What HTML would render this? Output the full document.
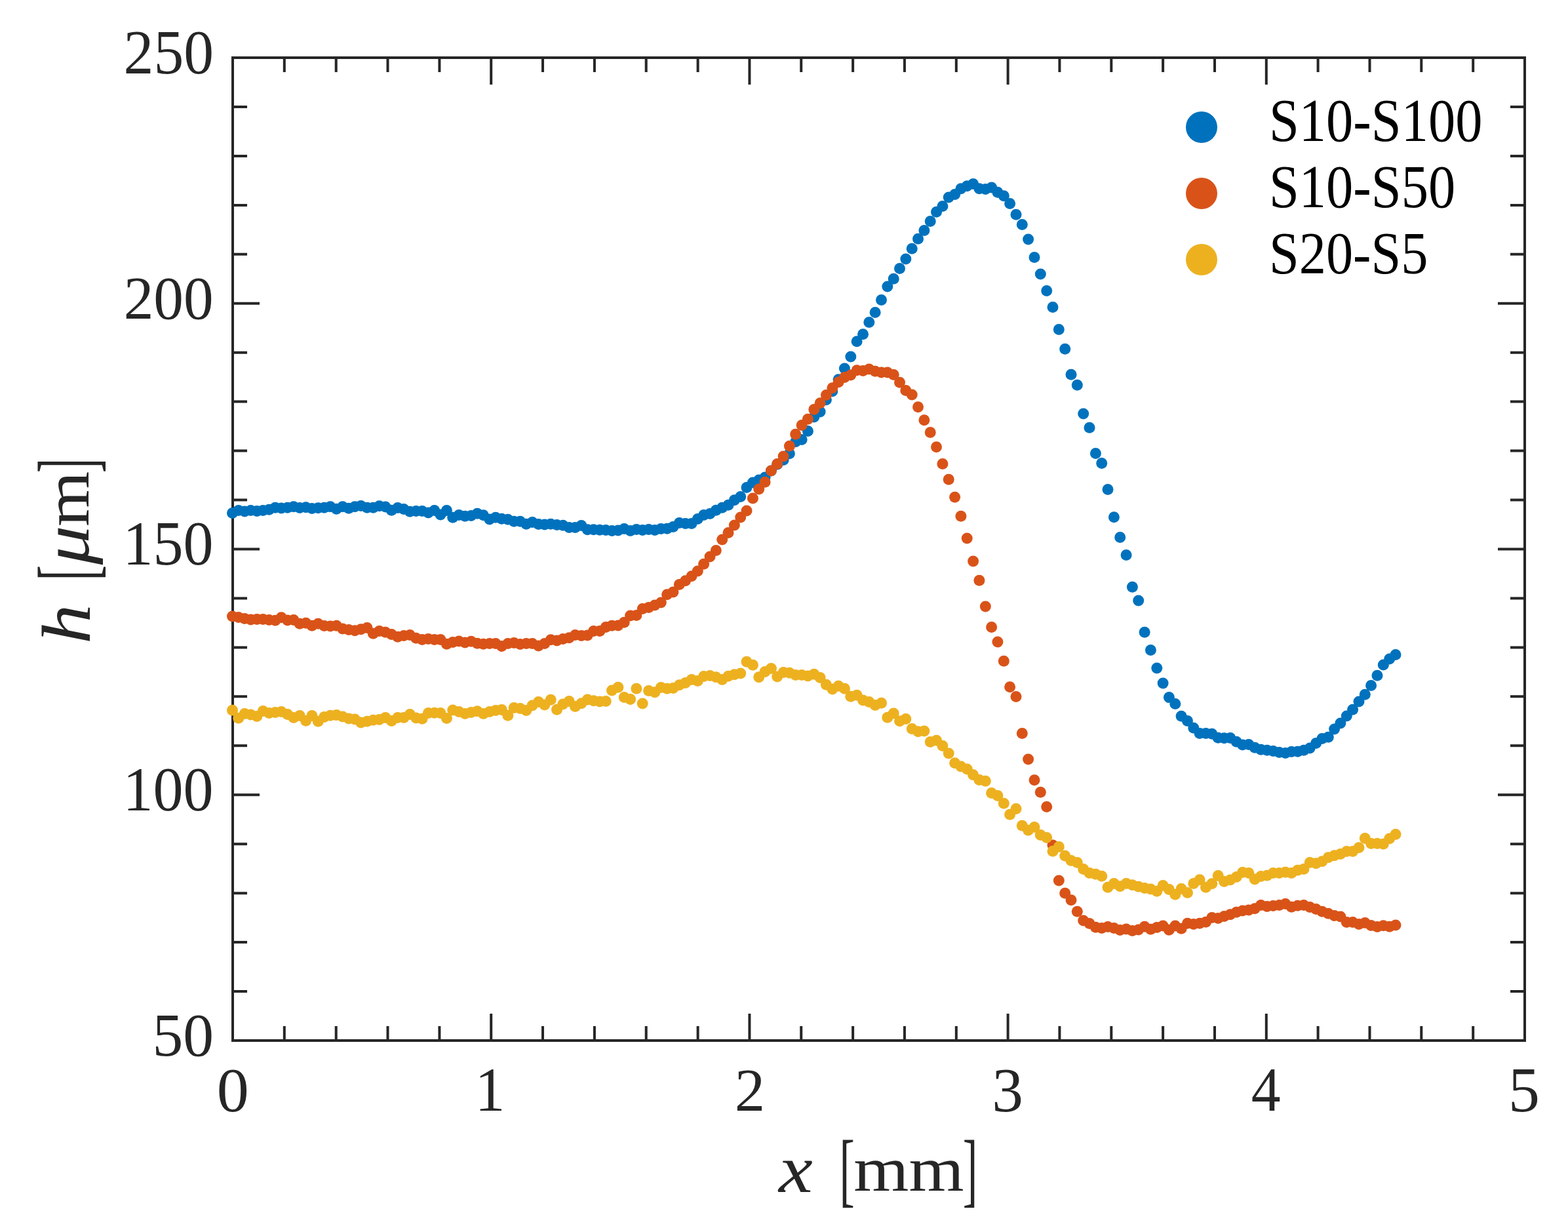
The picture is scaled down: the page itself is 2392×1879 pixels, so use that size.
<!DOCTYPE html><html><head><meta charset="utf-8"><title>h vs x</title><style>html,body{margin:0;padding:0;background:#fff;overflow:hidden}svg{display:block}</style></head><body>
<svg width="2392" height="1879" viewBox="0 0 2392 1879">
<rect width="2392" height="1879" fill="#fff"/>
<path d="M433.8 1587.0v-22M433.8 88.0v22M512.7 1587.0v-22M512.7 88.0v22M591.5 1587.0v-22M591.5 88.0v22M670.4 1587.0v-22M670.4 88.0v22M749.2 1587.0v-41M749.2 88.0v41M828.0 1587.0v-22M828.0 88.0v22M906.9 1587.0v-22M906.9 88.0v22M985.7 1587.0v-22M985.7 88.0v22M1064.6 1587.0v-22M1064.6 88.0v22M1143.4 1587.0v-41M1143.4 88.0v41M1222.2 1587.0v-22M1222.2 88.0v22M1301.1 1587.0v-22M1301.1 88.0v22M1379.9 1587.0v-22M1379.9 88.0v22M1458.8 1587.0v-22M1458.8 88.0v22M1537.6 1587.0v-41M1537.6 88.0v41M1616.4 1587.0v-22M1616.4 88.0v22M1695.3 1587.0v-22M1695.3 88.0v22M1774.1 1587.0v-22M1774.1 88.0v22M1853.0 1587.0v-22M1853.0 88.0v22M1931.8 1587.0v-41M1931.8 88.0v41M2010.6 1587.0v-22M2010.6 88.0v22M2089.5 1587.0v-22M2089.5 88.0v22M2168.3 1587.0v-22M2168.3 88.0v22M2247.2 1587.0v-22M2247.2 88.0v22M355.0 1512.0h22M2326.0 1512.0h-22M355.0 1437.1h22M2326.0 1437.1h-22M355.0 1362.2h22M2326.0 1362.2h-22M355.0 1287.2h22M2326.0 1287.2h-22M355.0 1212.2h41M2326.0 1212.2h-41M355.0 1137.3h22M2326.0 1137.3h-22M355.0 1062.3h22M2326.0 1062.3h-22M355.0 987.4h22M2326.0 987.4h-22M355.0 912.5h22M2326.0 912.5h-22M355.0 837.5h41M2326.0 837.5h-41M355.0 762.5h22M2326.0 762.5h-22M355.0 687.6h22M2326.0 687.6h-22M355.0 612.6h22M2326.0 612.6h-22M355.0 537.7h22M2326.0 537.7h-22M355.0 462.8h41M2326.0 462.8h-41M355.0 387.8h22M2326.0 387.8h-22M355.0 312.9h22M2326.0 312.9h-22M355.0 237.9h22M2326.0 237.9h-22M355.0 162.9h22M2326.0 162.9h-22" stroke="#262626" stroke-width="4" fill="none"/>
<rect x="355.0" y="88.0" width="1971.0" height="1499.0" stroke="#262626" stroke-width="4" fill="none"/>
<g font-family="Liberation Serif, serif" font-size="100" fill="#262626"><text transform="matrix(0.9166 0 0 0.9467 188.58 111.75)">250</text><text transform="matrix(0.9131 0 0 0.9348 188.69 486.07)">200</text><text transform="matrix(0.9212 0 0 0.9481 187.51 860.95)">150</text><text transform="matrix(0.9212 0 0 0.9467 187.51 1235.85)">100</text><text transform="matrix(0.9367 0 0 0.9289 232.38 1610.07)">50</text><text transform="matrix(0.9810 0 0 0.9526 330.68 1694.75)">0</text><text transform="matrix(0.9200 0 0 0.9542 724.52 1694.00)">1</text><text transform="matrix(0.9275 0 0 0.9364 1120.83 1693.70)">2</text><text transform="matrix(0.9537 0 0 0.9597 1513.13 1695.24)">3</text><text transform="matrix(0.8968 0 0 0.9600 1908.81 1694.48)">4</text><text transform="matrix(0.9575 0 0 0.9654 2300.95 1694.83)">5</text>
<text transform="matrix(1.1663 0 0 1.0330 1187.97 1817.80)" font-style="italic">x</text>
<text transform="matrix(0.7000 0 0 1.2533 1280.55 1825.08)">[</text>
<text transform="matrix(1.0816 0 0 0.9681 1302.34 1816.30)">mm</text>
<text transform="matrix(0.6756 0 0 1.2533 1468.64 1825.08)">]</text>
<g transform="translate(135 841) rotate(-90)">
<text transform="matrix(1.2141 0 0 1.0511 -141.25 1.53)" font-style="italic">h</text>
<text transform="matrix(0.7045 0 0 1.2497 -44.38 9.03)">[</text>
<text transform="matrix(1.1957 0 0 1.0090 -20.40 0.41)" font-style="italic">μ</text>
<text transform="matrix(1.0811 0 0 0.9702 37.94 -0.40)">m</text>
<text transform="matrix(0.6667 0 0 1.2497 119.67 9.03)">]</text>
</g></g>
<g fill="#0072BD"><circle cx="354.5" cy="782.4" r="8.5"/><circle cx="363.8" cy="778.5" r="8.5"/><circle cx="373.2" cy="780.1" r="8.5"/><circle cx="382.5" cy="778.5" r="8.5"/><circle cx="391.9" cy="779.6" r="8.5"/><circle cx="401.2" cy="778.6" r="8.5"/><circle cx="410.5" cy="777.3" r="8.5"/><circle cx="419.9" cy="774.3" r="8.5"/><circle cx="429.2" cy="775.0" r="8.5"/><circle cx="438.6" cy="774.3" r="8.5"/><circle cx="447.9" cy="772.7" r="8.5"/><circle cx="457.2" cy="774.5" r="8.5"/><circle cx="466.6" cy="773.8" r="8.5"/><circle cx="475.9" cy="775.5" r="8.5"/><circle cx="485.3" cy="774.7" r="8.5"/><circle cx="494.6" cy="774.3" r="8.5"/><circle cx="503.9" cy="772.7" r="8.5"/><circle cx="513.3" cy="776.2" r="8.5"/><circle cx="522.6" cy="772.7" r="8.5"/><circle cx="532.0" cy="775.2" r="8.5"/><circle cx="541.3" cy="772.7" r="8.5"/><circle cx="550.6" cy="771.6" r="8.5"/><circle cx="560.0" cy="774.3" r="8.5"/><circle cx="569.3" cy="774.3" r="8.5"/><circle cx="578.6" cy="771.8" r="8.5"/><circle cx="588.0" cy="772.9" r="8.5"/><circle cx="597.3" cy="778.2" r="8.5"/><circle cx="606.7" cy="774.5" r="8.5"/><circle cx="616.0" cy="776.6" r="8.5"/><circle cx="625.3" cy="780.3" r="8.5"/><circle cx="634.7" cy="779.4" r="8.5"/><circle cx="644.0" cy="779.4" r="8.5"/><circle cx="653.4" cy="781.9" r="8.5"/><circle cx="662.7" cy="778.5" r="8.5"/><circle cx="672.0" cy="785.1" r="8.5"/><circle cx="681.4" cy="778.6" r="8.5"/><circle cx="690.7" cy="789.2" r="8.5"/><circle cx="700.1" cy="785.4" r="8.5"/><circle cx="709.4" cy="787.2" r="8.5"/><circle cx="718.7" cy="786.5" r="8.5"/><circle cx="728.1" cy="783.2" r="8.5"/><circle cx="737.4" cy="785.8" r="8.5"/><circle cx="746.8" cy="792.1" r="8.5"/><circle cx="756.1" cy="789.3" r="8.5"/><circle cx="765.4" cy="791.2" r="8.5"/><circle cx="774.8" cy="792.3" r="8.5"/><circle cx="784.1" cy="795.3" r="8.5"/><circle cx="793.5" cy="795.3" r="8.5"/><circle cx="802.8" cy="799.2" r="8.5"/><circle cx="812.1" cy="796.4" r="8.5"/><circle cx="821.5" cy="799.4" r="8.5"/><circle cx="830.8" cy="800.1" r="8.5"/><circle cx="840.2" cy="799.2" r="8.5"/><circle cx="849.5" cy="800.4" r="8.5"/><circle cx="858.8" cy="801.3" r="8.5"/><circle cx="868.2" cy="804.5" r="8.5"/><circle cx="877.5" cy="804.5" r="8.5"/><circle cx="886.9" cy="801.5" r="8.5"/><circle cx="896.2" cy="807.7" r="8.5"/><circle cx="905.5" cy="807.7" r="8.5"/><circle cx="914.9" cy="808.2" r="8.5"/><circle cx="924.2" cy="808.6" r="8.5"/><circle cx="933.5" cy="809.6" r="8.5"/><circle cx="942.9" cy="808.9" r="8.5"/><circle cx="952.2" cy="806.6" r="8.5"/><circle cx="961.6" cy="809.4" r="8.5"/><circle cx="970.9" cy="807.6" r="8.5"/><circle cx="980.2" cy="808.5" r="8.5"/><circle cx="989.6" cy="807.6" r="8.5"/><circle cx="998.9" cy="808.5" r="8.5"/><circle cx="1008.3" cy="806.5" r="8.5"/><circle cx="1017.6" cy="806.3" r="8.5"/><circle cx="1026.9" cy="803.4" r="8.5"/><circle cx="1036.3" cy="797.6" r="8.5"/><circle cx="1045.6" cy="798.4" r="8.5"/><circle cx="1055.0" cy="798.4" r="8.5"/><circle cx="1064.3" cy="791.6" r="8.5"/><circle cx="1073.6" cy="785.5" r="8.5"/><circle cx="1083.0" cy="783.6" r="8.5"/><circle cx="1092.3" cy="778.3" r="8.5"/><circle cx="1101.7" cy="774.2" r="8.5"/><circle cx="1111.0" cy="770.3" r="8.5"/><circle cx="1120.3" cy="762.7" r="8.5"/><circle cx="1129.7" cy="757.6" r="8.5"/><circle cx="1139.0" cy="743.4" r="8.5"/><circle cx="1148.4" cy="736.0" r="8.5"/><circle cx="1157.7" cy="732.0" r="8.5"/><circle cx="1167.0" cy="727.9" r="8.5"/><circle cx="1176.4" cy="718.0" r="8.5"/><circle cx="1185.7" cy="708.2" r="8.5"/><circle cx="1195.1" cy="701.6" r="8.5"/><circle cx="1204.4" cy="691.8" r="8.5"/><circle cx="1213.7" cy="673.8" r="8.5"/><circle cx="1223.1" cy="670.5" r="8.5"/><circle cx="1232.4" cy="657.4" r="8.5"/><circle cx="1241.8" cy="636.0" r="8.5"/><circle cx="1251.1" cy="627.9" r="8.5"/><circle cx="1260.4" cy="609.8" r="8.5"/><circle cx="1269.8" cy="596.7" r="8.5"/><circle cx="1279.1" cy="578.7" r="8.5"/><circle cx="1288.4" cy="562.0" r="8.5"/><circle cx="1297.8" cy="543.9" r="8.5"/><circle cx="1307.1" cy="520.8" r="8.5"/><circle cx="1316.5" cy="509.7" r="8.5"/><circle cx="1325.8" cy="491.5" r="8.5"/><circle cx="1335.1" cy="476.5" r="8.5"/><circle cx="1344.5" cy="457.6" r="8.5"/><circle cx="1353.8" cy="437.0" r="8.5"/><circle cx="1363.2" cy="425.2" r="8.5"/><circle cx="1372.5" cy="409.4" r="8.5"/><circle cx="1381.8" cy="395.1" r="8.5"/><circle cx="1391.2" cy="379.3" r="8.5"/><circle cx="1400.5" cy="364.3" r="8.5"/><circle cx="1409.9" cy="351.4" r="8.5"/><circle cx="1419.2" cy="337.4" r="8.5"/><circle cx="1428.5" cy="323.2" r="8.5"/><circle cx="1437.9" cy="314.5" r="8.5"/><circle cx="1447.2" cy="301.1" r="8.5"/><circle cx="1456.6" cy="296.4" r="8.5"/><circle cx="1465.9" cy="287.7" r="8.5"/><circle cx="1475.2" cy="283.7" r="8.5"/><circle cx="1484.6" cy="280.5" r="8.5"/><circle cx="1493.9" cy="287.7" r="8.5"/><circle cx="1503.3" cy="288.4" r="8.5"/><circle cx="1512.6" cy="286.1" r="8.5"/><circle cx="1521.9" cy="293.2" r="8.5"/><circle cx="1531.3" cy="298.7" r="8.5"/><circle cx="1540.6" cy="310.6" r="8.5"/><circle cx="1550.0" cy="327.3" r="8.5"/><circle cx="1559.3" cy="342.4" r="8.5"/><circle cx="1568.6" cy="364.9" r="8.5"/><circle cx="1578.0" cy="392.6" r="8.5"/><circle cx="1587.3" cy="418.1" r="8.5"/><circle cx="1596.7" cy="443.6" r="8.5"/><circle cx="1606.0" cy="468.5" r="8.5"/><circle cx="1615.3" cy="502.4" r="8.5"/><circle cx="1624.7" cy="532.3" r="8.5"/><circle cx="1634.0" cy="571.3" r="8.5"/><circle cx="1643.3" cy="587.2" r="8.5"/><circle cx="1652.7" cy="631.1" r="8.5"/><circle cx="1662.0" cy="652.2" r="8.5"/><circle cx="1671.4" cy="691.4" r="8.5"/><circle cx="1680.7" cy="706.6" r="8.5"/><circle cx="1690.0" cy="746.5" r="8.5"/><circle cx="1699.4" cy="788.8" r="8.5"/><circle cx="1708.7" cy="819.6" r="8.5"/><circle cx="1718.1" cy="846.4" r="8.5"/><circle cx="1727.4" cy="895.2" r="8.5"/><circle cx="1736.7" cy="916.1" r="8.5"/><circle cx="1746.1" cy="964.2" r="8.5"/><circle cx="1755.4" cy="991.5" r="8.5"/><circle cx="1764.8" cy="1019.1" r="8.5"/><circle cx="1774.1" cy="1042.1" r="8.5"/><circle cx="1783.4" cy="1063.6" r="8.5"/><circle cx="1792.8" cy="1073.4" r="8.5"/><circle cx="1802.1" cy="1092.3" r="8.5"/><circle cx="1811.5" cy="1099.5" r="8.5"/><circle cx="1820.8" cy="1110.3" r="8.5"/><circle cx="1830.1" cy="1118.4" r="8.5"/><circle cx="1839.5" cy="1118.4" r="8.5"/><circle cx="1848.8" cy="1119.3" r="8.5"/><circle cx="1858.2" cy="1125.3" r="8.5"/><circle cx="1867.5" cy="1125.8" r="8.5"/><circle cx="1876.8" cy="1125.5" r="8.5"/><circle cx="1886.2" cy="1131.3" r="8.5"/><circle cx="1895.5" cy="1136.1" r="8.5"/><circle cx="1904.9" cy="1135.4" r="8.5"/><circle cx="1914.2" cy="1140.2" r="8.5"/><circle cx="1923.5" cy="1143.2" r="8.5"/><circle cx="1932.9" cy="1144.3" r="8.5"/><circle cx="1942.2" cy="1145.5" r="8.5"/><circle cx="1951.5" cy="1147.4" r="8.5"/><circle cx="1960.9" cy="1148.5" r="8.5"/><circle cx="1970.2" cy="1146.6" r="8.5"/><circle cx="1979.6" cy="1146.2" r="8.5"/><circle cx="1988.9" cy="1144.3" r="8.5"/><circle cx="1998.2" cy="1141.1" r="8.5"/><circle cx="2007.6" cy="1133.6" r="8.5"/><circle cx="2016.9" cy="1126.4" r="8.5"/><circle cx="2026.3" cy="1124.2" r="8.5"/><circle cx="2035.6" cy="1112.0" r="8.5"/><circle cx="2044.9" cy="1103.0" r="8.5"/><circle cx="2054.3" cy="1092.0" r="8.5"/><circle cx="2063.6" cy="1082.3" r="8.5"/><circle cx="2073.0" cy="1070.1" r="8.5"/><circle cx="2082.3" cy="1059.2" r="8.5"/><circle cx="2091.6" cy="1045.6" r="8.5"/><circle cx="2101.0" cy="1030.2" r="8.5"/><circle cx="2110.3" cy="1014.1" r="8.5"/><circle cx="2119.7" cy="1005.1" r="8.5"/><circle cx="2129.0" cy="998.6" r="8.5"/></g>
<g fill="#D95319"><circle cx="354.5" cy="939.9" r="8.5"/><circle cx="363.8" cy="941.6" r="8.5"/><circle cx="373.2" cy="943.4" r="8.5"/><circle cx="382.5" cy="945.0" r="8.5"/><circle cx="391.9" cy="944.5" r="8.5"/><circle cx="401.2" cy="944.5" r="8.5"/><circle cx="410.5" cy="945.4" r="8.5"/><circle cx="419.9" cy="946.3" r="8.5"/><circle cx="429.2" cy="941.7" r="8.5"/><circle cx="438.6" cy="945.9" r="8.5"/><circle cx="447.9" cy="945.4" r="8.5"/><circle cx="457.2" cy="951.2" r="8.5"/><circle cx="466.6" cy="950.3" r="8.5"/><circle cx="475.9" cy="954.2" r="8.5"/><circle cx="485.3" cy="951.2" r="8.5"/><circle cx="494.6" cy="954.4" r="8.5"/><circle cx="503.9" cy="954.9" r="8.5"/><circle cx="513.3" cy="954.2" r="8.5"/><circle cx="522.6" cy="959.0" r="8.5"/><circle cx="532.0" cy="960.6" r="8.5"/><circle cx="541.3" cy="961.8" r="8.5"/><circle cx="550.6" cy="959.7" r="8.5"/><circle cx="560.0" cy="957.6" r="8.5"/><circle cx="569.3" cy="966.2" r="8.5"/><circle cx="578.6" cy="962.5" r="8.5"/><circle cx="588.0" cy="964.3" r="8.5"/><circle cx="597.3" cy="967.5" r="8.5"/><circle cx="606.7" cy="971.2" r="8.5"/><circle cx="616.0" cy="969.4" r="8.5"/><circle cx="625.3" cy="968.5" r="8.5"/><circle cx="634.7" cy="973.3" r="8.5"/><circle cx="644.0" cy="975.4" r="8.5"/><circle cx="653.4" cy="974.4" r="8.5"/><circle cx="662.7" cy="975.4" r="8.5"/><circle cx="672.0" cy="975.4" r="8.5"/><circle cx="681.4" cy="982.3" r="8.5"/><circle cx="690.7" cy="979.5" r="8.5"/><circle cx="700.1" cy="978.1" r="8.5"/><circle cx="709.4" cy="980.1" r="8.5"/><circle cx="718.7" cy="978.3" r="8.5"/><circle cx="728.1" cy="981.3" r="8.5"/><circle cx="737.4" cy="982.3" r="8.5"/><circle cx="746.8" cy="981.5" r="8.5"/><circle cx="756.1" cy="981.5" r="8.5"/><circle cx="765.4" cy="985.6" r="8.5"/><circle cx="774.8" cy="981.5" r="8.5"/><circle cx="784.1" cy="980.5" r="8.5"/><circle cx="793.5" cy="982.6" r="8.5"/><circle cx="802.8" cy="981.5" r="8.5"/><circle cx="812.1" cy="981.5" r="8.5"/><circle cx="821.5" cy="984.9" r="8.5"/><circle cx="830.8" cy="981.6" r="8.5"/><circle cx="840.2" cy="975.7" r="8.5"/><circle cx="849.5" cy="976.9" r="8.5"/><circle cx="858.8" cy="974.6" r="8.5"/><circle cx="868.2" cy="972.7" r="8.5"/><circle cx="877.5" cy="968.6" r="8.5"/><circle cx="886.9" cy="969.5" r="8.5"/><circle cx="896.2" cy="969.0" r="8.5"/><circle cx="905.5" cy="962.6" r="8.5"/><circle cx="914.9" cy="962.6" r="8.5"/><circle cx="924.2" cy="956.6" r="8.5"/><circle cx="933.5" cy="954.3" r="8.5"/><circle cx="942.9" cy="953.9" r="8.5"/><circle cx="952.2" cy="949.3" r="8.5"/><circle cx="961.6" cy="938.9" r="8.5"/><circle cx="970.9" cy="938.6" r="8.5"/><circle cx="980.2" cy="928.5" r="8.5"/><circle cx="989.6" cy="926.5" r="8.5"/><circle cx="998.9" cy="922.9" r="8.5"/><circle cx="1008.3" cy="919.1" r="8.5"/><circle cx="1017.6" cy="906.8" r="8.5"/><circle cx="1026.9" cy="902.9" r="8.5"/><circle cx="1036.3" cy="891.6" r="8.5"/><circle cx="1045.6" cy="885.8" r="8.5"/><circle cx="1055.0" cy="878.8" r="8.5"/><circle cx="1064.3" cy="870.9" r="8.5"/><circle cx="1073.6" cy="860.2" r="8.5"/><circle cx="1083.0" cy="849.1" r="8.5"/><circle cx="1092.3" cy="839.4" r="8.5"/><circle cx="1101.7" cy="823.0" r="8.5"/><circle cx="1111.0" cy="812.5" r="8.5"/><circle cx="1120.3" cy="801.0" r="8.5"/><circle cx="1129.7" cy="789.0" r="8.5"/><circle cx="1139.0" cy="779.0" r="8.5"/><circle cx="1148.4" cy="760.0" r="8.5"/><circle cx="1157.7" cy="745.9" r="8.5"/><circle cx="1167.0" cy="735.2" r="8.5"/><circle cx="1176.4" cy="718.0" r="8.5"/><circle cx="1185.7" cy="707.4" r="8.5"/><circle cx="1195.1" cy="695.9" r="8.5"/><circle cx="1204.4" cy="680.3" r="8.5"/><circle cx="1213.7" cy="662.3" r="8.5"/><circle cx="1223.1" cy="648.4" r="8.5"/><circle cx="1232.4" cy="639.3" r="8.5"/><circle cx="1241.8" cy="624.6" r="8.5"/><circle cx="1251.1" cy="614.8" r="8.5"/><circle cx="1260.4" cy="602.5" r="8.5"/><circle cx="1269.8" cy="591.8" r="8.5"/><circle cx="1279.1" cy="582.8" r="8.5"/><circle cx="1288.4" cy="575.4" r="8.5"/><circle cx="1297.8" cy="572.1" r="8.5"/><circle cx="1307.1" cy="564.8" r="8.5"/><circle cx="1316.5" cy="565.6" r="8.5"/><circle cx="1325.8" cy="563.1" r="8.5"/><circle cx="1335.1" cy="566.2" r="8.5"/><circle cx="1344.5" cy="568.0" r="8.5"/><circle cx="1353.8" cy="568.1" r="8.5"/><circle cx="1363.2" cy="571.6" r="8.5"/><circle cx="1372.5" cy="583.3" r="8.5"/><circle cx="1381.8" cy="595.6" r="8.5"/><circle cx="1391.2" cy="602.1" r="8.5"/><circle cx="1400.5" cy="620.8" r="8.5"/><circle cx="1409.9" cy="640.7" r="8.5"/><circle cx="1419.2" cy="659.4" r="8.5"/><circle cx="1428.5" cy="681.7" r="8.5"/><circle cx="1437.9" cy="707.4" r="8.5"/><circle cx="1447.2" cy="731.3" r="8.5"/><circle cx="1456.6" cy="758.2" r="8.5"/><circle cx="1465.9" cy="787.2" r="8.5"/><circle cx="1475.2" cy="821.1" r="8.5"/><circle cx="1484.6" cy="856.1" r="8.5"/><circle cx="1493.9" cy="885.2" r="8.5"/><circle cx="1503.3" cy="924.9" r="8.5"/><circle cx="1512.6" cy="956.6" r="8.5"/><circle cx="1521.9" cy="979.1" r="8.5"/><circle cx="1531.3" cy="1008.3" r="8.5"/><circle cx="1540.6" cy="1047.8" r="8.5"/><circle cx="1550.0" cy="1062.4" r="8.5"/><circle cx="1559.3" cy="1118.4" r="8.5"/><circle cx="1568.6" cy="1158.0" r="8.5"/><circle cx="1578.0" cy="1189.8" r="8.5"/><circle cx="1587.3" cy="1208.2" r="8.5"/><circle cx="1596.7" cy="1230.5" r="8.5"/><circle cx="1606.0" cy="1289.1" r="8.5"/><circle cx="1615.3" cy="1343.1" r="8.5"/><circle cx="1624.7" cy="1362.2" r="8.5"/><circle cx="1634.0" cy="1372.8" r="8.5"/><circle cx="1643.3" cy="1390.3" r="8.5"/><circle cx="1652.7" cy="1404.0" r="8.5"/><circle cx="1662.0" cy="1408.6" r="8.5"/><circle cx="1671.4" cy="1414.2" r="8.5"/><circle cx="1680.7" cy="1415.4" r="8.5"/><circle cx="1690.0" cy="1413.5" r="8.5"/><circle cx="1699.4" cy="1415.4" r="8.5"/><circle cx="1708.7" cy="1418.5" r="8.5"/><circle cx="1718.1" cy="1417.0" r="8.5"/><circle cx="1727.4" cy="1419.5" r="8.5"/><circle cx="1736.7" cy="1418.1" r="8.5"/><circle cx="1746.1" cy="1413.3" r="8.5"/><circle cx="1755.4" cy="1417.2" r="8.5"/><circle cx="1764.8" cy="1414.4" r="8.5"/><circle cx="1774.1" cy="1412.1" r="8.5"/><circle cx="1783.4" cy="1418.3" r="8.5"/><circle cx="1792.8" cy="1412.1" r="8.5"/><circle cx="1802.1" cy="1416.3" r="8.5"/><circle cx="1811.5" cy="1408.2" r="8.5"/><circle cx="1820.8" cy="1409.4" r="8.5"/><circle cx="1830.1" cy="1408.2" r="8.5"/><circle cx="1839.5" cy="1406.2" r="8.5"/><circle cx="1848.8" cy="1399.4" r="8.5"/><circle cx="1858.2" cy="1400.6" r="8.5"/><circle cx="1867.5" cy="1397.4" r="8.5"/><circle cx="1876.8" cy="1394.8" r="8.5"/><circle cx="1886.2" cy="1391.3" r="8.5"/><circle cx="1895.5" cy="1389.0" r="8.5"/><circle cx="1904.9" cy="1388.0" r="8.5"/><circle cx="1914.2" cy="1385.7" r="8.5"/><circle cx="1923.5" cy="1380.6" r="8.5"/><circle cx="1932.9" cy="1382.4" r="8.5"/><circle cx="1942.2" cy="1381.5" r="8.5"/><circle cx="1951.5" cy="1380.4" r="8.5"/><circle cx="1960.9" cy="1378.5" r="8.5"/><circle cx="1970.2" cy="1383.3" r="8.5"/><circle cx="1979.6" cy="1381.3" r="8.5"/><circle cx="1988.9" cy="1380.4" r="8.5"/><circle cx="1998.2" cy="1383.6" r="8.5"/><circle cx="2007.6" cy="1386.4" r="8.5"/><circle cx="2016.9" cy="1390.2" r="8.5"/><circle cx="2026.3" cy="1393.3" r="8.5"/><circle cx="2035.6" cy="1396.5" r="8.5"/><circle cx="2044.9" cy="1397.9" r="8.5"/><circle cx="2054.3" cy="1406.6" r="8.5"/><circle cx="2063.6" cy="1406.6" r="8.5"/><circle cx="2073.0" cy="1409.4" r="8.5"/><circle cx="2082.3" cy="1407.5" r="8.5"/><circle cx="2091.6" cy="1411.4" r="8.5"/><circle cx="2101.0" cy="1413.5" r="8.5"/><circle cx="2110.3" cy="1411.7" r="8.5"/><circle cx="2119.7" cy="1413.2" r="8.5"/><circle cx="2129.0" cy="1411.1" r="8.5"/></g>
<g fill="#EDB120"><circle cx="354.5" cy="1083.3" r="8.5"/><circle cx="363.8" cy="1095.2" r="8.5"/><circle cx="373.2" cy="1088.6" r="8.5"/><circle cx="382.5" cy="1090.0" r="8.5"/><circle cx="391.9" cy="1092.4" r="8.5"/><circle cx="401.2" cy="1084.5" r="8.5"/><circle cx="410.5" cy="1087.5" r="8.5"/><circle cx="419.9" cy="1086.4" r="8.5"/><circle cx="429.2" cy="1085.5" r="8.5"/><circle cx="438.6" cy="1089.4" r="8.5"/><circle cx="447.9" cy="1094.4" r="8.5"/><circle cx="457.2" cy="1091.4" r="8.5"/><circle cx="466.6" cy="1099.3" r="8.5"/><circle cx="475.9" cy="1091.4" r="8.5"/><circle cx="485.3" cy="1100.2" r="8.5"/><circle cx="494.6" cy="1093.5" r="8.5"/><circle cx="503.9" cy="1091.2" r="8.5"/><circle cx="513.3" cy="1090.5" r="8.5"/><circle cx="522.6" cy="1093.0" r="8.5"/><circle cx="532.0" cy="1096.0" r="8.5"/><circle cx="541.3" cy="1097.0" r="8.5"/><circle cx="550.6" cy="1102.0" r="8.5"/><circle cx="560.0" cy="1100.2" r="8.5"/><circle cx="569.3" cy="1098.3" r="8.5"/><circle cx="578.6" cy="1097.4" r="8.5"/><circle cx="588.0" cy="1094.4" r="8.5"/><circle cx="597.3" cy="1099.5" r="8.5"/><circle cx="606.7" cy="1094.5" r="8.5"/><circle cx="616.0" cy="1094.4" r="8.5"/><circle cx="625.3" cy="1089.4" r="8.5"/><circle cx="634.7" cy="1095.1" r="8.5"/><circle cx="644.0" cy="1096.3" r="8.5"/><circle cx="653.4" cy="1087.5" r="8.5"/><circle cx="662.7" cy="1087.3" r="8.5"/><circle cx="672.0" cy="1087.5" r="8.5"/><circle cx="681.4" cy="1095.4" r="8.5"/><circle cx="690.7" cy="1082.9" r="8.5"/><circle cx="700.1" cy="1085.5" r="8.5"/><circle cx="709.4" cy="1088.5" r="8.5"/><circle cx="718.7" cy="1086.4" r="8.5"/><circle cx="728.1" cy="1084.8" r="8.5"/><circle cx="737.4" cy="1088.5" r="8.5"/><circle cx="746.8" cy="1085.5" r="8.5"/><circle cx="756.1" cy="1083.4" r="8.5"/><circle cx="765.4" cy="1082.5" r="8.5"/><circle cx="774.8" cy="1091.3" r="8.5"/><circle cx="784.1" cy="1079.6" r="8.5"/><circle cx="793.5" cy="1080.5" r="8.5"/><circle cx="802.8" cy="1083.4" r="8.5"/><circle cx="812.1" cy="1075.9" r="8.5"/><circle cx="821.5" cy="1070.5" r="8.5"/><circle cx="830.8" cy="1075.1" r="8.5"/><circle cx="840.2" cy="1067.3" r="8.5"/><circle cx="849.5" cy="1082.3" r="8.5"/><circle cx="858.8" cy="1074.0" r="8.5"/><circle cx="868.2" cy="1069.4" r="8.5"/><circle cx="877.5" cy="1077.4" r="8.5"/><circle cx="886.9" cy="1072.7" r="8.5"/><circle cx="896.2" cy="1066.9" r="8.5"/><circle cx="905.5" cy="1068.7" r="8.5"/><circle cx="914.9" cy="1070.1" r="8.5"/><circle cx="924.2" cy="1069.4" r="8.5"/><circle cx="933.5" cy="1053.1" r="8.5"/><circle cx="942.9" cy="1048.3" r="8.5"/><circle cx="952.2" cy="1063.5" r="8.5"/><circle cx="961.6" cy="1066.4" r="8.5"/><circle cx="970.9" cy="1050.3" r="8.5"/><circle cx="980.2" cy="1073.1" r="8.5"/><circle cx="989.6" cy="1053.4" r="8.5"/><circle cx="998.9" cy="1055.7" r="8.5"/><circle cx="1008.3" cy="1048.5" r="8.5"/><circle cx="1017.6" cy="1050.3" r="8.5"/><circle cx="1026.9" cy="1049.4" r="8.5"/><circle cx="1036.3" cy="1044.8" r="8.5"/><circle cx="1045.6" cy="1041.6" r="8.5"/><circle cx="1055.0" cy="1036.5" r="8.5"/><circle cx="1064.3" cy="1038.4" r="8.5"/><circle cx="1073.6" cy="1031.5" r="8.5"/><circle cx="1083.0" cy="1030.4" r="8.5"/><circle cx="1092.3" cy="1032.8" r="8.5"/><circle cx="1101.7" cy="1036.5" r="8.5"/><circle cx="1111.0" cy="1031.3" r="8.5"/><circle cx="1120.3" cy="1028.7" r="8.5"/><circle cx="1129.7" cy="1026.9" r="8.5"/><circle cx="1139.0" cy="1009.3" r="8.5"/><circle cx="1148.4" cy="1014.3" r="8.5"/><circle cx="1157.7" cy="1032.7" r="8.5"/><circle cx="1167.0" cy="1024.4" r="8.5"/><circle cx="1176.4" cy="1019.4" r="8.5"/><circle cx="1185.7" cy="1032.0" r="8.5"/><circle cx="1195.1" cy="1025.4" r="8.5"/><circle cx="1204.4" cy="1026.3" r="8.5"/><circle cx="1213.7" cy="1029.5" r="8.5"/><circle cx="1223.1" cy="1029.5" r="8.5"/><circle cx="1232.4" cy="1031.1" r="8.5"/><circle cx="1241.8" cy="1028.3" r="8.5"/><circle cx="1251.1" cy="1033.6" r="8.5"/><circle cx="1260.4" cy="1044.2" r="8.5"/><circle cx="1269.8" cy="1051.1" r="8.5"/><circle cx="1279.1" cy="1046.2" r="8.5"/><circle cx="1288.4" cy="1050.2" r="8.5"/><circle cx="1297.8" cy="1062.2" r="8.5"/><circle cx="1307.1" cy="1060.3" r="8.5"/><circle cx="1316.5" cy="1068.1" r="8.5"/><circle cx="1325.8" cy="1070.6" r="8.5"/><circle cx="1335.1" cy="1075.6" r="8.5"/><circle cx="1344.5" cy="1072.2" r="8.5"/><circle cx="1353.8" cy="1094.3" r="8.5"/><circle cx="1363.2" cy="1087.9" r="8.5"/><circle cx="1372.5" cy="1099.8" r="8.5"/><circle cx="1381.8" cy="1096.4" r="8.5"/><circle cx="1391.2" cy="1111.6" r="8.5"/><circle cx="1400.5" cy="1115.7" r="8.5"/><circle cx="1409.9" cy="1115.1" r="8.5"/><circle cx="1419.2" cy="1131.5" r="8.5"/><circle cx="1428.5" cy="1129.2" r="8.5"/><circle cx="1437.9" cy="1137.4" r="8.5"/><circle cx="1447.2" cy="1149.1" r="8.5"/><circle cx="1456.6" cy="1163.7" r="8.5"/><circle cx="1465.9" cy="1169.0" r="8.5"/><circle cx="1475.2" cy="1173.1" r="8.5"/><circle cx="1484.6" cy="1181.8" r="8.5"/><circle cx="1493.9" cy="1189.5" r="8.5"/><circle cx="1503.3" cy="1191.2" r="8.5"/><circle cx="1512.6" cy="1209.4" r="8.5"/><circle cx="1521.9" cy="1213.5" r="8.5"/><circle cx="1531.3" cy="1225.3" r="8.5"/><circle cx="1540.6" cy="1242.3" r="8.5"/><circle cx="1550.0" cy="1233.5" r="8.5"/><circle cx="1559.3" cy="1259.3" r="8.5"/><circle cx="1568.6" cy="1266.2" r="8.5"/><circle cx="1578.0" cy="1261.6" r="8.5"/><circle cx="1587.3" cy="1273.4" r="8.5"/><circle cx="1596.7" cy="1277.6" r="8.5"/><circle cx="1606.0" cy="1298.3" r="8.5"/><circle cx="1615.3" cy="1291.4" r="8.5"/><circle cx="1624.7" cy="1305.3" r="8.5"/><circle cx="1634.0" cy="1312.5" r="8.5"/><circle cx="1643.3" cy="1315.5" r="8.5"/><circle cx="1652.7" cy="1325.4" r="8.5"/><circle cx="1662.0" cy="1331.4" r="8.5"/><circle cx="1671.4" cy="1333.2" r="8.5"/><circle cx="1680.7" cy="1336.2" r="8.5"/><circle cx="1690.0" cy="1353.2" r="8.5"/><circle cx="1699.4" cy="1347.5" r="8.5"/><circle cx="1708.7" cy="1351.8" r="8.5"/><circle cx="1718.1" cy="1347.5" r="8.5"/><circle cx="1727.4" cy="1349.7" r="8.5"/><circle cx="1736.7" cy="1352.3" r="8.5"/><circle cx="1746.1" cy="1354.6" r="8.5"/><circle cx="1755.4" cy="1355.9" r="8.5"/><circle cx="1764.8" cy="1359.2" r="8.5"/><circle cx="1774.1" cy="1350.6" r="8.5"/><circle cx="1783.4" cy="1356.4" r="8.5"/><circle cx="1792.8" cy="1364.2" r="8.5"/><circle cx="1802.1" cy="1355.5" r="8.5"/><circle cx="1811.5" cy="1361.5" r="8.5"/><circle cx="1820.8" cy="1347.4" r="8.5"/><circle cx="1830.1" cy="1341.7" r="8.5"/><circle cx="1839.5" cy="1353.2" r="8.5"/><circle cx="1848.8" cy="1347.7" r="8.5"/><circle cx="1858.2" cy="1335.4" r="8.5"/><circle cx="1867.5" cy="1344.4" r="8.5"/><circle cx="1876.8" cy="1342.1" r="8.5"/><circle cx="1886.2" cy="1337.5" r="8.5"/><circle cx="1895.5" cy="1330.4" r="8.5"/><circle cx="1904.9" cy="1331.6" r="8.5"/><circle cx="1914.2" cy="1341.0" r="8.5"/><circle cx="1923.5" cy="1336.5" r="8.5"/><circle cx="1932.9" cy="1335.3" r="8.5"/><circle cx="1942.2" cy="1331.5" r="8.5"/><circle cx="1951.5" cy="1331.5" r="8.5"/><circle cx="1960.9" cy="1330.3" r="8.5"/><circle cx="1970.2" cy="1331.5" r="8.5"/><circle cx="1979.6" cy="1327.3" r="8.5"/><circle cx="1988.9" cy="1325.5" r="8.5"/><circle cx="1998.2" cy="1315.4" r="8.5"/><circle cx="2007.6" cy="1316.7" r="8.5"/><circle cx="2016.9" cy="1313.7" r="8.5"/><circle cx="2026.3" cy="1307.7" r="8.5"/><circle cx="2035.6" cy="1304.8" r="8.5"/><circle cx="2044.9" cy="1302.5" r="8.5"/><circle cx="2054.3" cy="1298.5" r="8.5"/><circle cx="2063.6" cy="1298.5" r="8.5"/><circle cx="2073.0" cy="1292.8" r="8.5"/><circle cx="2082.3" cy="1278.6" r="8.5"/><circle cx="2091.6" cy="1286.4" r="8.5"/><circle cx="2101.0" cy="1286.4" r="8.5"/><circle cx="2110.3" cy="1287.3" r="8.5"/><circle cx="2119.7" cy="1278.9" r="8.5"/><circle cx="2129.0" cy="1272.4" r="8.5"/></g>
<circle cx="1833" cy="194" r="24" fill="#0072BD"/><circle cx="1833" cy="295" r="24" fill="#D95319"/><circle cx="1833" cy="396" r="24" fill="#EDB120"/>
<g font-family="Liberation Serif, serif" font-size="100" fill="#000">
<text transform="matrix(0.8250 0 0 0.9259 1935.94 215.37)">S10-S100</text>
<text transform="matrix(0.8254 0 0 0.9215 1935.93 316.18)">S10-S50</text>
<text transform="matrix(0.8236 0 0 0.9156 1935.95 417.38)">S20-S5</text>
</g>
</svg></body></html>
